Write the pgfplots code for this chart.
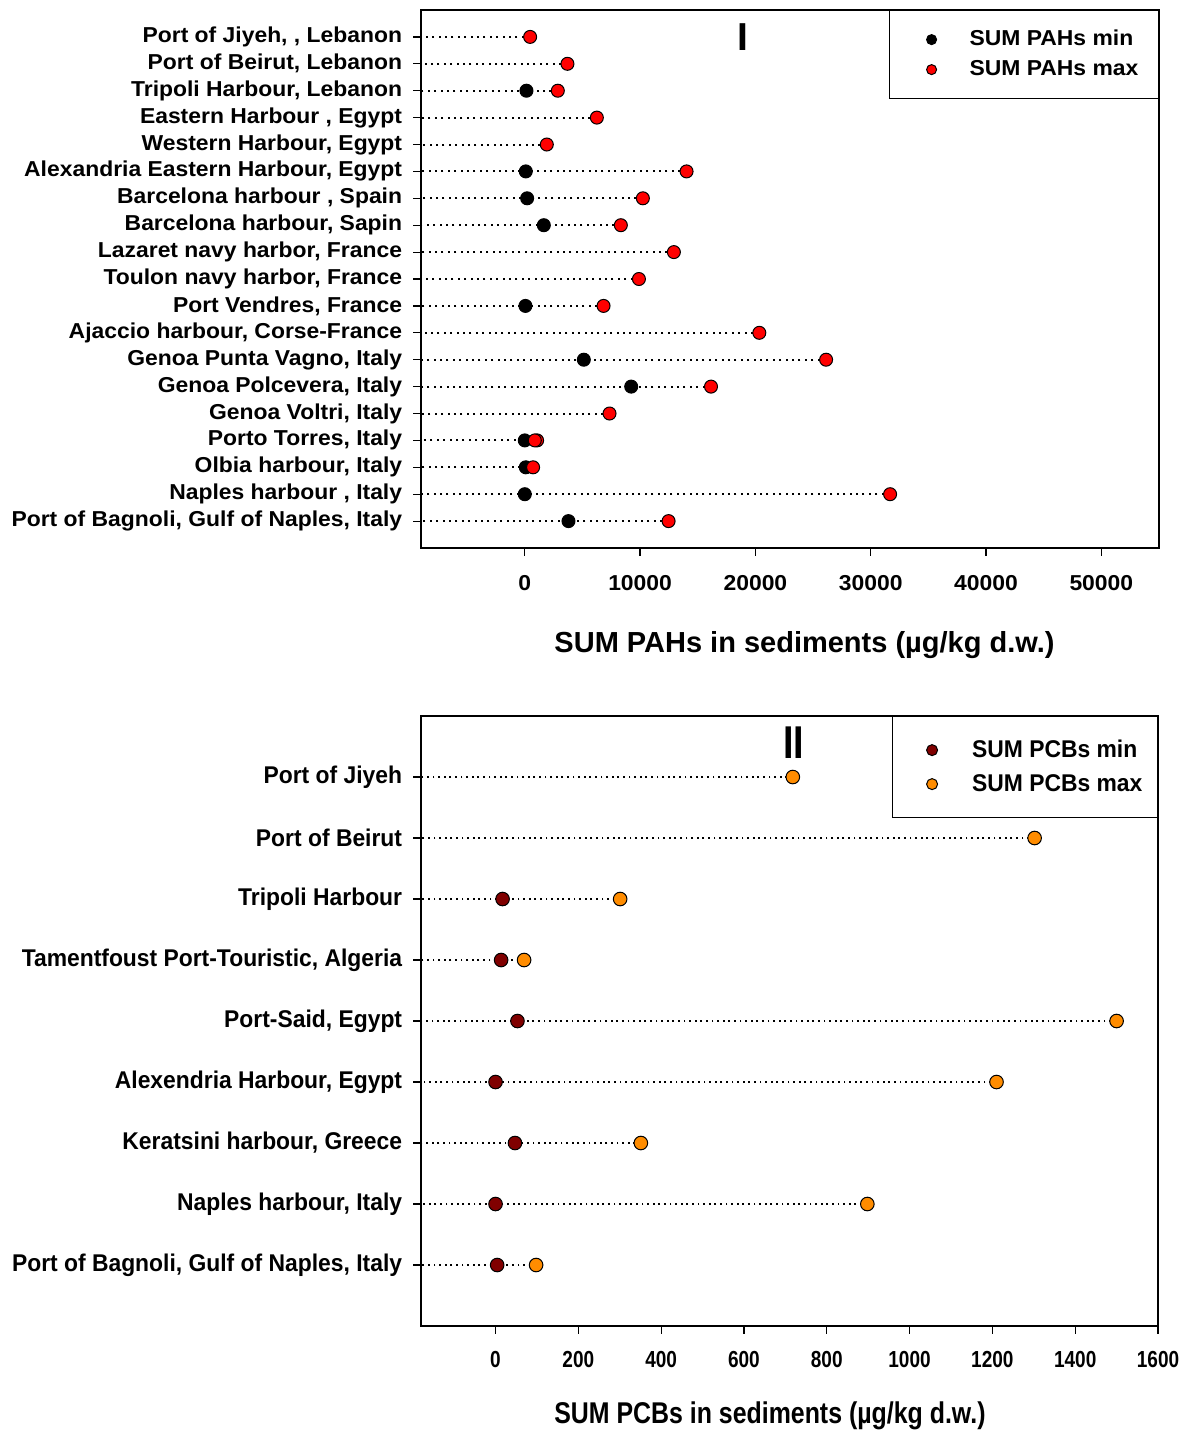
\documentclass[border=0pt]{standalone}
\usepackage{fontspec}
\setmainfont{Liberation Sans}
\newfontfamily\fA[FakeStretch=1.06]{Liberation Sans}
\newfontfamily\fB[FakeStretch=0.945]{Liberation Sans}
\newfontfamily\fC[FakeStretch=0.82]{Liberation Sans}
\newfontfamily\fD[FakeStretch=0.83]{Liberation Sans}
\usepackage{pgfplots}
\pgfplotsset{compat=1.18}
\usepackage{pgfplotstable}
\definecolor{pahmax}{RGB}{255,0,0}
\definecolor{pcbmin}{RGB}{128,0,0}
\definecolor{pcbmax}{RGB}{255,140,0}

\pgfplotstableread{
idx min max
0 3790 12470
1 0 31680
2 87 720
3 0 870
4 nan 7350
5 9230 16150
6 5120 26130
7 nan 20340
8 58 6830
9 nan 9900
10 nan 12930
11 1650 8330
12 203 10240
13 87 14030
14 nan 1910
15 nan 6250
16 145 2865
17 nan 3700
18 nan 463
}\pahs

\pgfplotstableread{
idx min max
0 4 98
1 0 898
2 47 351
3 0 1210
4 53 1500
5 13.5 69
6 17 301
7 nan 1302
8 nan 718
}\pcbs

\pgfplotsset{
  common/.style={
    scale only axis,
    axis line style={line width=0.9pt},
    tick style={line width=0.6pt, black},
    tick align=outside,
    xtick pos=left, ytick pos=left,
    scaled ticks=false,
    /pgf/number format/1000 sep={},
    /pgf/number format/assume math mode=true,
    clip=false,
    legend cell align=left,
  },
}

\begin{document}
\begin{tikzpicture}
\path[use as bounding box] (0,0) rectangle (593.5pt,-715pt);

% ---------- Panel I ----------
\begin{axis}[common,
  at={(210.5pt,-274pt)}, anchor=south west,
  width=369pt, height=269pt,
  xmin=-9000, xmax=55000, ymin=-1, ymax=19,
  xtick={0,10000,20000,30000,40000,50000},
  ytick={0,...,18},
  major tick length=3.75pt,
  yticklabels={{Port of Bagnoli, Gulf of Naples, Italy},{Naples harbour , Italy},{Olbia harbour, Italy},{Porto Torres, Italy},{Genoa Voltri, Italy},{Genoa Polcevera, Italy\ },{Genoa Punta Vagno, Italy\ },{Ajaccio harbour, Corse-France},{Port Vendres, France\ },{Toulon navy harbor, France},{Lazaret navy harbor, France},{Barcelona harbour, Sapin},{Barcelona harbour , Spain},{Alexandria Eastern Harbour, Egypt},{Western Harbour, Egypt},{Eastern Harbour , Egypt},{Tripoli Harbour, Lebanon},{Port of Beirut, Lebanon},{Port of Jiyeh, , Lebanon}},
  yticklabel style={font={\fontsize{10.8}{12}\fA\bfseries}, inner sep=0pt, anchor=east, xshift=-5.5pt},
  xticklabel style={font={\fontsize{10.8}{12}\fA\bfseries}, inner sep=0pt, anchor=north, yshift=-10pt},
  xlabel={SUM PAHs in sediments (µg/kg d.w.)},
  xlabel style={at={(axis description cs:0.5197,0)}, anchor=base, yshift=-52pt, inner sep=0pt, font={\fontsize{14.5}{16}\selectfont\bfseries}},
  legend image code/.code={\path[draw=none] (0pt,-5pt) rectangle (30pt,5pt); \draw[#1] plot coordinates {(11pt,0pt)};},
  legend style={at={(rel axis cs:1,1)}, anchor=north east, draw=black, line width=0.6pt,
    inner xsep=10pt, inner ysep=9.5pt, row sep=5pt, nodes={inner sep=0pt},
    font={\fontsize{10.8}{12}\fA\bfseries}},
]
\addlegendimage{only marks, mark=*, mark size=2.5pt, mark options={fill=black, draw=black, line width=0.5pt}}
\addlegendentry{SUM PAHs min}
\addlegendimage{only marks, mark=*, mark size=2.5pt, mark options={fill=pahmax, draw=black, line width=0.5pt}}
\addlegendentry{SUM PAHs max}

\addplot[forget plot, draw=none, mark=none,
  error bars/.cd, x dir=minus, x explicit, error mark=none,
  error bar style={line width=1pt, dash pattern=on 1pt off 2.2pt, black}]
  table[x=max, y=idx, x error minus expr=\thisrow{max}+9000] {\pahs};
\addplot[forget plot, only marks, mark=*, mark size=3.25pt, mark options={fill=black, draw=black, line width=0.5pt}]
  table[x=min, y=idx] {\pahs};
\addplot[forget plot, only marks, mark=*, mark size=3.25pt, mark options={fill=pahmax, draw=black, line width=0.5pt}]
  coordinates {(1070,3)};
\addplot[forget plot, only marks, mark=*, mark size=3.25pt, mark options={fill=pahmax, draw=black, line width=0.5pt}]
  table[x=max, y=idx] {\pahs};
\node[font={\fontsize{19.5}{20}\selectfont\bfseries}, inner sep=0pt] at (axis cs:18900,18) {I};
\end{axis}

% ---------- Panel II ----------
\begin{axis}[common,
  at={(210.5pt,-663pt)}, anchor=south west,
  width=368.5pt, height=305pt,
  xmin=-180, xmax=1600, ymin=-1, ymax=9,
  xtick={0,200,...,1600},
  ytick={0,...,8},
  major tick length=3.75pt,
  yticklabels={{Port of Bagnoli, Gulf of Naples, Italy},{Naples harbour, Italy},{Keratsini harbour, Greece},{Alexendria Harbour, Egypt},{Port-Said, Egypt},{Tamentfoust Port-Touristic, Algeria},{Tripoli Harbour},{Port of Beirut},{Port of Jiyeh}},
  yticklabel style={font={\fontsize{12.1}{13}\fB\bfseries}, inner sep=0pt, anchor=east, xshift=-5.5pt},
  xticklabel style={font={\fontsize{11.6}{12}\fC\bfseries}, inner sep=0pt, anchor=north, yshift=-8.75pt},
  xlabel={SUM PCBs in sediments (µg/kg d.w.)},
  xlabel style={at={(axis description cs:0.4735,0)}, anchor=base, yshift=-48.5pt, inner sep=0pt, font={\fontsize{15}{16}\fD\bfseries}},
  legend image code/.code={\path[draw=none] (0pt,-5.5pt) rectangle (32.5pt,5.5pt); \draw[#1] plot coordinates {(12.5pt,0pt)};},
  legend style={at={(rel axis cs:1,1)}, anchor=north east, draw=black, line width=0.6pt,
    inner xsep=7.5pt, inner ysep=11.25pt, row sep=6pt, nodes={inner sep=0pt},
    font={\fontsize{12.1}{13}\fB\bfseries}},
]
\addlegendimage{only marks, mark=*, mark size=2.75pt, mark options={fill=pcbmin, draw=black, line width=0.5pt}}
\addlegendentry{SUM PCBs min}
\addlegendimage{only marks, mark=*, mark size=2.75pt, mark options={fill=pcbmax, draw=black, line width=0.5pt}}
\addlegendentry{SUM PCBs max}

\addplot[forget plot, draw=none, mark=none,
  error bars/.cd, x dir=minus, x explicit, error mark=none,
  error bar style={line width=0.9pt, dash pattern=on 0.9pt off 1.9pt, black}]
  table[x=max, y=idx, x error minus expr=\thisrow{max}+180] {\pcbs};
\addplot[forget plot, only marks, mark=*, mark size=3.4pt, mark options={fill=pcbmin, draw=black, line width=0.5pt}]
  table[x=min, y=idx] {\pcbs};
\addplot[forget plot, only marks, mark=*, mark size=3.4pt, mark options={fill=pcbmax, draw=black, line width=0.5pt}]
  table[x=max, y=idx] {\pcbs};
\node[font={\fontsize{23}{24}\fC\bfseries}, inner sep=0pt] at (axis cs:720,8.56) {II};
\end{axis}
\end{tikzpicture}
\end{document}
